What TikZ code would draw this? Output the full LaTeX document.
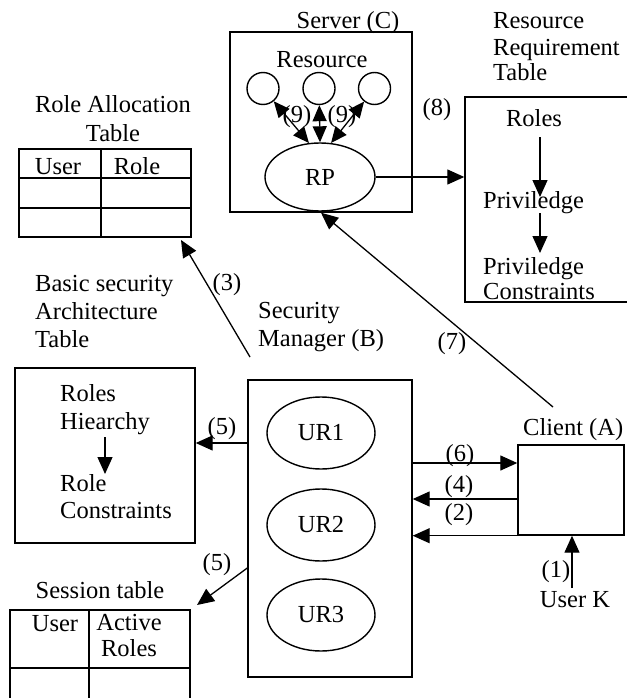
\documentclass[tikz,border=0pt]{standalone}
\usepackage{fontspec}
\setmainfont{Liberation Serif}
\usetikzlibrary{arrows.meta,shapes.geometric,calc}
\begin{document}
\begin{tikzpicture}[x=1pt,y=-1pt,
  txt/.style={inner sep=0pt,font=\fontsize{24.5}{28}\selectfont},
  tb/.style={txt,anchor=base},
  tw/.style={txt,anchor=base west},
  box/.style={draw,line width=1.4pt,inner sep=0pt},
  ln/.style={line width=1.3pt},
  arr/.style={ln,-{Triangle[length=17pt,width=15pt]}},
  darr/.style={ln,{Triangle[length=16pt,width=14pt]}-{Triangle[length=16pt,width=14pt]}},
  oval/.style={draw,ellipse,line width=1.4pt,inner sep=0pt,minimum width=108pt,minimum height=72pt,font=\fontsize{24.5}{28}\selectfont},
  res/.style={draw,circle,line width=1.4pt,inner sep=0pt,minimum size=32pt},
]
\useasboundingbox (0,0) rectangle (626,698);

% ---------- Server (C) ----------
\node[box,minimum width=182pt,minimum height=180pt] (srv) at (321,122) {};
\node[tb] (srvlbl) at (348,29) {Server (C)};
\node[tb] (reslbl) at (322,68) {Resource};
\node[res] (c1) at (263,88.5) {};
\node[res] (c2) at (319,88.5) {};
\node[res] (c3) at (374.5,88.5) {};
\node[oval,minimum width=110pt,minimum height=68pt] (rp) at (320,177) {RP};
\draw[darr] (c1) -- (rp.108);
\draw[darr] (c2) -- (rp.north);
\draw[darr] (c3) -- (rp.72);
\node[tb] (l9a) at (297,122) {(9)};
\node[tb] (l9b) at (342,122) {(9)};

% ---------- Resource Requirement Table ----------
\node[tw] (rrt1) at (493,29) {Resource};
\node[tw] (rrt2) at (493,56) {Requirement};
\node[tw] (rrt3) at (493,81) {Table};
\node[box,minimum width=163pt,minimum height=205pt] (rrt) at (546.5,199.5) {};
\node[tb] (rroles) at (534,126) {Roles};
\node[tw] (rpriv1) at (483,208) {Priviledge};
\node[tw] (rpriv2) at (483,274) {Priviledge};
\node[tw] (rcons) at (483,299) {Constraints};
\coordinate (ra1) at (540,137);
\coordinate (rb1) at (540,197);
\coordinate (ra2) at (540,213);
\coordinate (rb2) at (540,253);
\draw[arr] (ra1) -- (rb1);
\draw[arr] (ra2) -- (rb2);
\draw[arr] (rp.east) -- (rp.east -| rrt.west);
\node[tb] (l8) at (437,116) {(8)};

% ---------- Role Allocation Table ----------
\node[tb] (ratl1) at (113,113) {Role Allocation};
\node[tb] (ratl2) at (113,141) {Table};
\node[box,minimum width=172pt,minimum height=88pt] (rat) at (105,193) {};
\draw[box] (19,178) -- (191,178);
\draw[box] (19,208) -- (191,208);
\draw[box] (101,149) -- (101,237);
\node[tb] (ratu) at (58,174) {User};
\node[tb] (ratr) at (137,174) {Role};

% ---------- Basic security Architecture Table ----------
\node[tw] (bsl1) at (35,291) {Basic security};
\node[tw] (bsl2) at (35,319) {Architecture};
\node[tw] (bsl3) at (35,347) {Table};
\node[box,minimum width=180pt,minimum height=175pt] (bsa) at (105,455.5) {};
\node[tw] (broles) at (60,401) {Roles};
\node[tw] (bhier) at (60,429) {Hiearchy};
\node[tw] (brole) at (60,491) {Role};
\node[tw] (bcons) at (60,518) {Constraints};
\coordinate (ba) at (105,437);
\coordinate (bb) at (105,474);
\draw[arr] (ba) -- (bb);

% ---------- Security Manager (B) ----------
\node[tw] (sml1) at (258,318) {Security};
\node[tw] (sml2) at (258,346) {Manager (B)};
\node[box,minimum width=164pt,minimum height=297pt] (sm) at (330,528.5) {};
\node[oval] (ur1) at (321,433) {UR1};
\node[oval] (ur2) at (321,525) {UR2};
\node[oval] (ur3) at (321,615) {UR3};

% ---------- Session table ----------
\node[tb] (stl) at (100,598) {Session table};
\draw[box] (10,706) -- (10,610) -- (190,610) -- (190,706);
\draw[box] (10,668) -- (190,668);
\draw[box] (89,610) -- (89,706);
\node[tb] (stu) at (55,631) {User};
\node[tb] (sta) at (129,630) {Active};
\node[tb] (str) at (129,656) {Roles};

% ---------- Client (A) ----------
\node[tw] (cll) at (523,435) {Client (A)};
\node[box,minimum width=106pt,minimum height=90pt] (cl) at (571,490) {};
\node[tb] (uk) at (575,607) {User K};
\coordinate (u1) at (572,588);
\draw[arr] (u1) -- (u1 |- cl.south);
\node[tb] (l1) at (556,577) {(1)};

% ---------- connectors ----------
\coordinate (p3) at (250,357);
\coordinate (t3) at (181,240);
\draw[arr] (p3) -- (t3);
\node[tb] (l3) at (227,290) {(3)};

\coordinate (p7) at (553,407);
\draw[arr] (p7) -- (srv.south);
\node[tb] (l7) at (452,349) {(7)};

\coordinate (y6) at (0,463);
\coordinate (y4) at (0,499);
\draw[arr] (sm.east |- y6) -- (cl.west |- y6);
\node[tb] (l6) at (460,461) {(6)};
\draw[arr] (cl.west |- y4) -- (sm.east |- y4);
\node[tb] (l4) at (459,492) {(4)};
\draw[arr] (cl.south west) -- (sm.east |- cl.south west);
\node[tb] (l2) at (459,520) {(2)};

\coordinate (y5) at (0,443);
\draw[arr] (sm.west |- y5) -- (bsa.east |- y5);
\node[tb] (l5a) at (222,434) {(5)};
\coordinate (y5b) at (0,568);
\coordinate (t5) at (197,605);
\draw[arr] (sm.west |- y5b) -- (t5);
\node[tb] (l5b) at (217,570) {(5)};
\end{tikzpicture}
\end{document}
